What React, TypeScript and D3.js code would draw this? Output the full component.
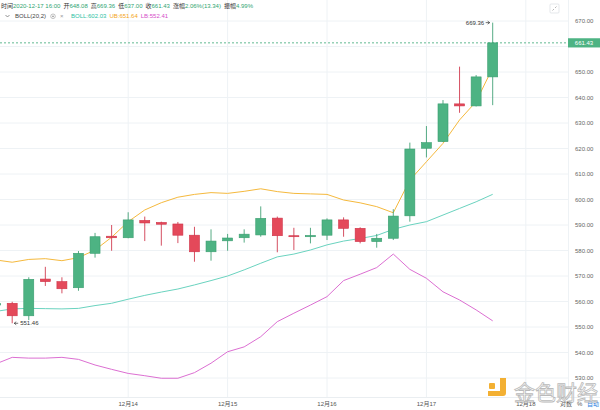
import React from 'react';
import * as d3 from 'd3';

// 4h candles, 2020-12-12 16:00 .. 2020-12-17 16:00
const times = [
  '2020-12-12 16:00', '2020-12-12 20:00',
  '2020-12-13 00:00', '2020-12-13 04:00', '2020-12-13 08:00', '2020-12-13 12:00', '2020-12-13 16:00', '2020-12-13 20:00',
  '2020-12-14 00:00', '2020-12-14 04:00', '2020-12-14 08:00', '2020-12-14 12:00', '2020-12-14 16:00', '2020-12-14 20:00',
  '2020-12-15 00:00', '2020-12-15 04:00', '2020-12-15 08:00', '2020-12-15 12:00', '2020-12-15 16:00', '2020-12-15 20:00',
  '2020-12-16 00:00', '2020-12-16 04:00', '2020-12-16 08:00', '2020-12-16 12:00', '2020-12-16 16:00', '2020-12-16 20:00',
  '2020-12-17 00:00', '2020-12-17 04:00', '2020-12-17 08:00', '2020-12-17 12:00', '2020-12-17 16:00',
];
const opens = [558.6, 559.3, 554.4, 568.8, 567.8, 565.4, 578.9, 585.6, 585.0, 591.8, 591.0, 590.4, 586.0, 579.5, 583.8, 585.0, 586.1, 592.7, 585.8, 585.4, 586.0, 592.0, 588.7, 583.5, 584.8, 593.6, 620.1, 622.7, 637.5, 636.7, 648.08];
const highs = [559.8, 559.9, 569.5, 573.6, 569.5, 579.8, 586.9, 590.0, 595.0, 593.3, 591.3, 591.2, 589.3, 588.3, 586.5, 588.3, 597.3, 593.3, 588.9, 588.9, 592.6, 593.0, 589.1, 586.5, 596.2, 622.3, 628.8, 639.0, 652.1, 648.8, 669.36];
const lows = [557.9, 551.46, 552.7, 566.1, 563.2, 564.2, 577.2, 579.9, 584.8, 583.7, 581.9, 582.9, 575.6, 576.0, 579.9, 583.1, 585.4, 579.3, 580.2, 582.8, 584.1, 585.4, 582.8, 581.1, 584.1, 591.3, 616.5, 622.5, 634.0, 636.5, 637.0];
const closes = [559.2, 554.4, 568.7, 567.8, 565.0, 578.9, 585.4, 585.0, 592.0, 590.8, 590.3, 586.0, 579.5, 583.7, 584.9, 586.4, 592.6, 585.8, 585.4, 585.9, 592.0, 588.7, 583.5, 584.8, 593.5, 619.8, 622.3, 637.5, 636.7, 648.08, 661.43];

// BOLL(20,2)
const bollMid = [556.1, 557.1, 557.3, 557.2, 557.1, 557.3, 558.4, 559.3, 560.9, 562.4, 563.7, 564.9, 566.5, 568.2, 570.0, 572.4, 575.0, 577.5, 578.6, 580.2, 582.2, 583.7, 584.7, 585.9, 588.3, 590.0, 591.3, 593.9, 596.5, 599.1, 602.03];
const bollUp = [576.3, 575.4, 576.5, 576.8, 576.0, 577.2, 580.2, 585.2, 591.3, 595.9, 598.75, 600.9, 602.0, 602.7, 602.4, 603.2, 604.2, 603.1, 602.4, 602.2, 602.0, 599.8, 598.7, 597.2, 594.8, 607.6, 614.8, 622.0, 631.2, 638.4, 651.64];
const bollLow = [535.5, 538.1, 537.8, 537.8, 538.1, 537.3, 535.1, 533.4, 531.8, 530.9, 529.9, 529.9, 532.1, 535.8, 540.3, 542.2, 546.2, 552.1, 555.4, 558.6, 561.9, 568.2, 570.7, 573.3, 578.6, 572.6, 569.1, 563.8, 560.6, 556.7, 552.41];

const yTicks = d3.range(530, 671, 10);
const headerItems = [
  ['时间', '2020-12-17 16:00'],
  ['开', '648.08'],
  ['高', '669.36'],
  ['低', '637.00'],
  ['收', '661.43'],
  ['涨幅', '2.06%(13.34)'],
  ['振幅', '4.99%'],
];
const lastPrice = '661.43';
const maxLabel = '669.36';
const minLabel = '551.46';

const FONT = "'Liberation Sans', 'Noto Sans CJK SC', sans-serif";
const UP = '#4db383';
const UP_LINE = '#3a9e70';
const DOWN = '#e4495a';
const DOWN_LINE = '#cf3348';

export default function App() {
  const W = 600, H = 410;
  const right = 568, bottom = 397;
  const parse = d3.timeParse('%Y-%m-%d %H:%M');
  const dates = times.map(t => parse(t) as Date);

  const x = d3.scaleTime()
    .domain([parse('2020-12-12 20:00') as Date, parse('2020-12-17 16:00') as Date])
    .range([12.2, 492.7]);
  const y = d3.scaleLinear().domain([530, 670]).range([378, 21]);

  const dayTicks = d3.timeDay.range(parse('2020-12-14 00:00') as Date, parse('2020-12-18 01:00') as Date);
  const fmtDay = (d: Date) => `${d.getMonth() + 1}月${d.getDate()}`;

  const line = (vals: number[]) =>
    d3.line<number>().x((_, i) => x(dates[i])).y(v => y(v))(vals) || '';

  const bw = 10;
  const hiIdx = d3.maxIndex(highs);
  const loIdx = d3.minIndex(lows);

  return (
    <svg width={W} height={H} style={{ position: 'absolute', left: 0, top: 0, background: '#fff' }} fontFamily={FONT}>
      <defs>
        <clipPath id="plot"><rect x={0} y={0} width={right} height={bottom} /></clipPath>
      </defs>
      <rect width={W} height={H} fill="#fff" />

      {/* grid */}
      {yTicks.map(t => (
        <line key={t} x1={0} x2={right} y1={y(t)} y2={y(t)} stroke="#eef2f5" strokeWidth={1} />
      ))}
      {dayTicks.map(d => (
        <line key={+d} x1={x(d)} x2={x(d)} y1={0} y2={bottom} stroke="#eef2f5" strokeWidth={1} />
      ))}
      <line x1={right + 0.5} x2={right + 0.5} y1={0} y2={bottom} stroke="#eef2f5" />
      <line x1={0} x2={W} y1={bottom + 0.5} y2={bottom + 0.5} stroke="#eaeef1" />

      <g clipPath="url(#plot)">
        {/* bands */}
        <path d={line(bollLow)} fill="none" stroke="#dc6fd2" strokeWidth={1} />
        <path d={line(bollMid)} fill="none" stroke="#6ad3bf" strokeWidth={1} />
        <path d={line(bollUp)} fill="none" stroke="#f5b93d" strokeWidth={1} />

        {/* candles */}
        {dates.map((d, i) => {
          const up = closes[i] >= opens[i];
          const cx = x(d);
          const top = y(Math.max(opens[i], closes[i]));
          const bot = y(Math.min(opens[i], closes[i]));
          return (
            <g key={i}>
              <line x1={cx} x2={cx} y1={y(highs[i])} y2={y(lows[i])} stroke={up ? UP_LINE : DOWN_LINE} strokeWidth={1} opacity={0.85} />
              <rect x={cx - bw / 2} y={top} width={bw} height={Math.max(bot - top, 1)}
                fill={up ? UP : DOWN} stroke={up ? UP_LINE : DOWN_LINE} strokeWidth={0.6} />
            </g>
          );
        })}
      </g>

      {/* current price line */}
      <line x1={0} x2={right} y1={y(+lastPrice)} y2={y(+lastPrice)} stroke="#3aa876" strokeWidth={0.8} strokeDasharray="2,2" />
      <rect x={right} y={y(+lastPrice) - 4.6} width={W - right} height={9.2} fill="#4db383" />
      <text x={584} y={y(+lastPrice) + 2.2} fontSize={6} fill="#fff" textAnchor="middle">{lastPrice}</text>

      {/* max / min annotations */}
      <text x={x(dates[hiIdx]) - 8.5} y={y(highs[hiIdx]) + 2} fontSize={6} fill="#333" textAnchor="end">{maxLabel}</text>
      <path d={`M${x(dates[hiIdx]) - 7},${y(highs[hiIdx])}H${x(dates[hiIdx]) - 3}M${x(dates[hiIdx]) - 5},${y(highs[hiIdx]) - 1.5}L${x(dates[hiIdx]) - 3},${y(highs[hiIdx])}L${x(dates[hiIdx]) - 5},${y(highs[hiIdx]) + 1.5}`} stroke="#333" strokeWidth={0.7} fill="none" />
      <path d={`M${x(dates[loIdx]) + 2},${y(lows[loIdx])}H${x(dates[loIdx]) + 6}M${x(dates[loIdx]) + 4},${y(lows[loIdx]) - 1.5}L${x(dates[loIdx]) + 2},${y(lows[loIdx])}L${x(dates[loIdx]) + 4},${y(lows[loIdx]) + 1.5}`} stroke="#333" strokeWidth={0.7} fill="none" />
      <text x={x(dates[loIdx]) + 8} y={y(lows[loIdx]) + 2} fontSize={6} fill="#333">{minLabel}</text>

      {/* right axis */}
      {yTicks.map(t => (
        t === 660 ? null :
        <text key={t} x={575} y={y(t) + 2} fontSize={6} fill="#666">{t.toFixed(2)}</text>
      ))}

      {/* bottom axis */}
      {dayTicks.map(d => (
        <text key={+d} x={x(d)} y={405.5} fontSize={6} fill="#555" textAnchor="middle">{fmtDay(d)}</text>
      ))}
      <text x={560} y={405.5} fontSize={6} fill="#555">对数</text>
      <text x={577} y={405.5} fontSize={6} fill="#555">%</text>
      <text x={587} y={405.5} fontSize={6} fill="#2f7fe0">自动</text>

      {/* header line 1 */}
      <text x={1} y={8.2} fontSize={6}>
        {headerItems.map(([k, v], i) => (
          <React.Fragment key={k}>
            <tspan dx={i === 0 ? 0 : 3} fill="#333">{k}</tspan>
            <tspan fill="#2fa572">{v}</tspan>
          </React.Fragment>
        ))}
      </text>

      {/* header line 2 */}
      <path d="M5.5,15 L7.5,17 L9.5,15" stroke="#666" strokeWidth={0.7} fill="none" />
      <text x={15} y={18.3} fontSize={6} fill="#444">BOLL(20,2)</text>
      <circle cx={53} cy={16.3} r={2.3} stroke="#999" strokeWidth={0.6} fill="none" />
      <circle cx={53} cy={16.3} r={0.9} fill="#999" />
      <text x={60} y={18.3} fontSize={6} fill="#999">×</text>
      <text x={71} y={18.3} fontSize={6}>
        <tspan fill="#2cbfa4">BOLL:{bollMid[bollMid.length - 1].toFixed(2)}</tspan>
        <tspan dx={3} fill="#f3a516">UB:{bollUp[bollUp.length - 1].toFixed(2)}</tspan>
        <tspan dx={3} fill="#d54fc9">LB:{bollLow[bollLow.length - 1].toFixed(2)}</tspan>
      </text>

      {/* top-right icon */}
      <rect x={550} y={4} width={9} height={9} rx={1} fill="#fff" stroke="#d5d9dd" strokeWidth={0.6} />
      <path d="M552.5,10.5 L554,9 M556.5,6.5 L555,8" stroke="#888" strokeWidth={0.6} />

      {/* watermark */}
      <g opacity={0.9}>
        <rect x={489} y={383} width={6} height={6} rx={1} fill="#f2a81d" />
        <path d="M500,378 h6 v15 q0,3 -3,3 h-15 v-5 h12 z" fill="#f2a81d" />
        <text x={514} y={400} fontSize={21} fontFamily="'Noto Sans CJK SC', sans-serif"
          fill="#fff" fillOpacity={0.6} stroke="#b3b3b3" strokeWidth={0.8}>金色财经</text>
      </g>
    </svg>
  );
}
